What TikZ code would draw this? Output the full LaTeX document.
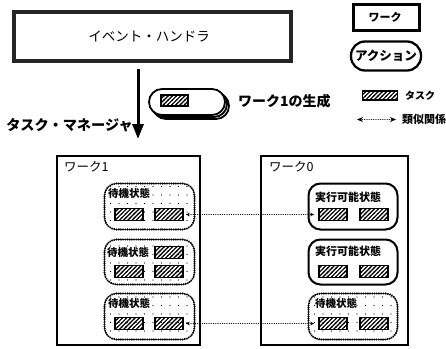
\documentclass[tikz,border=0pt]{standalone}
\usepackage{fontspec}
\setmainfont{Noto Sans CJK JP}
\usetikzlibrary{patterns,arrows.meta}

\pgfdeclarepatternformonly{sparsedots}{\pgfqpoint{-1pt}{-1pt}}{\pgfqpoint{1pt}{1pt}}{\pgfqpoint{8.5pt}{8.5pt}}{\pgfpathcircle{\pgfpointorigin}{0.7pt}\pgfusepath{fill}}
\pgfdeclarepatternformonly{hatchne}{\pgfqpoint{-1pt}{-1pt}}{\pgfqpoint{5.5pt}{5.5pt}}{\pgfqpoint{4.2pt}{4.2pt}}{\pgfsetlinewidth{1.15pt}\pgfpathmoveto{\pgfqpoint{-0.5pt}{-0.5pt}}\pgfpathlineto{\pgfqpoint{4.7pt}{4.7pt}}\pgfusepath{stroke}}

\tikzset{
  fs/.style={font=\fontsize{#1}{#1}\selectfont},
  workbox/.style={draw, line width=2pt, inner sep=0pt},
  statedot/.style={draw, line width=2.2pt, rounded corners=12pt, inner sep=0pt,
     dash pattern=on 0.1pt off 2.1pt, line cap=round, pattern=sparsedots},
  staterun/.style={draw, line width=2pt, rounded corners=12pt, inner sep=0pt, fill=white},
  taskbox/.style={draw, line width=1.6pt, pattern=hatchne, minimum width=28pt, minimum height=12pt, inner sep=0pt},
  pill/.style={draw, line width=1.8pt, fill=white, rounded corners=13pt, minimum width=76pt, minimum height=26pt, inner sep=0pt},
  simrel/.style={line width=0.9pt, dash pattern=on 0.1pt off 1.7pt, line cap=round,
     {Stealth[length=4pt,width=3.5pt]}-{Stealth[length=4pt,width=3.5pt]}},
  lbl/.style={inner sep=0pt, anchor=west},
}

\begin{document}
\begin{tikzpicture}[x=1pt,y=-1pt]
\useasboundingbox (0,0) rectangle (446,348);

% event handler
\node[draw=black!85, line width=3.5pt, minimum width=277pt, minimum height=49pt, inner sep=0pt] (eh) at (152.5,36.5) {};
\node[fs=13.5, inner sep=0pt] (ehl) at (149,37) {イベント・ハンドラ};

% legend
\node[draw, line width=2.5pt, minimum width=66pt, minimum height=26pt, inner sep=0pt] (lw) at (386.5,17.5) {};
\node[font=\bfseries\fontsize{11}{11}\selectfont, inner sep=0pt] (lwl) at (385,17.5) {ワーク};
\node[draw, line width=2.3pt, rounded corners=14pt, minimum width=70pt, minimum height=29pt, inner sep=0pt] (la) at (386,56) {};
\node[font=\bfseries\fontsize{12.5}{12.5}\selectfont, inner sep=0pt] (lal) at (386,56) {アクション};
\node[taskbox, minimum width=35pt, minimum height=9pt] (lt) at (380,95.5) {};
\node[lbl, font=\bfseries\fontsize{10}{10}\selectfont] (ltl) at (405,95.5) {タスク};
\coordinate (ls1) at (357,119.5);
\coordinate (ls2) at (396,119.5);
\draw[simrel, {Stealth[length=6pt,width=5pt]}-{Stealth[length=6pt,width=5pt]}] (ls1) -- (ls2);
\node[lbl, font=\bfseries\fontsize{11}{11}\selectfont] (lsl) at (402,119.5) {類似関係};

% main arrow
\coordinate (tm) at (138,139);
\draw[line width=3pt, -{Triangle[length=15pt,width=11pt]}, shorten <=6pt] (eh.south -| tm) -- (tm);
\node[anchor=east, inner sep=0pt, font=\bfseries\fontsize{14.2}{14.2}\selectfont] (tml) at (133,125) {タスク・マネージャ};

% action: create work1
\node[pill] (gen2) at (191,106) {};
\node[pill] (gen1) at (189,104) {};
\node[pill] (gen) at (187,102) {};
\node[taskbox, minimum width=27pt, minimum height=11pt] (gent) at (174.5,100.5) {};
\node[lbl, font=\bfseries\fontsize{14}{14}\selectfont] (genl) at (238,101) {ワーク1の生成};

% works
\node[workbox, minimum width=143pt, minimum height=189pt] (w1) at (128,250) {};
\node[lbl, fs=12.5] (w1l) at (64,167) {ワーク1};
\node[workbox, minimum width=147pt, minimum height=189pt] (w0) at (334,250) {};
\node[lbl, fs=12.5] (w0l) at (269,167) {ワーク0};

% states in work1
\node[statedot, minimum width=90pt, minimum height=46pt] (s11) at (149.5,206.5) {};
\node[statedot, minimum width=90pt, minimum height=45pt] (s12) at (149.5,262) {};
\node[statedot, minimum width=90pt, minimum height=46pt] (s13) at (149.5,316.5) {};
\node[lbl, font=\bfseries\fontsize{10.5}{10.5}\selectfont] (s11l) at (108,193) {待機状態};
\node[lbl, font=\bfseries\fontsize{10.5}{10.5}\selectfont] (s12l) at (107,252) {待機状態};
\node[lbl, font=\bfseries\fontsize{10.5}{10.5}\selectfont] (s13l) at (108,303) {待機状態};

% states in work0
\node[staterun, minimum width=89pt, minimum height=46pt] (s01) at (353,206.5) {};
\node[staterun, minimum width=89pt, minimum height=45pt] (s02) at (353,262) {};
\node[statedot, minimum width=89pt, minimum height=46pt] (s03) at (353,316.5) {};
\node[lbl, font=\bfseries\fontsize{11}{11}\selectfont] (s01l) at (315,197) {実行可能状態};
\node[lbl, font=\bfseries\fontsize{11}{11}\selectfont] (s02l) at (315,251) {実行可能状態};
\node[lbl, font=\bfseries\fontsize{10.5}{10.5}\selectfont] (s03l) at (315,303) {待機状態};

% tasks
\node[taskbox] (t11a) at (129,214.5) {};
\node[taskbox] (t11b) at (169,214.5) {};
\node[taskbox] (t12c) at (169,252.5) {};
\node[taskbox] (t12a) at (129,271.5) {};
\node[taskbox] (t12b) at (169,271.5) {};
\node[taskbox] (t13a) at (129,323.5) {};
\node[taskbox] (t13b) at (169,323.5) {};
\node[taskbox] (t01a) at (333,214.5) {};
\node[taskbox] (t01b) at (374,214.5) {};
\node[taskbox] (t02a) at (333,271.5) {};
\node[taskbox] (t02b) at (374,271.5) {};
\node[taskbox] (t03a) at (333,323.5) {};
\node[taskbox] (t03b) at (374,323.5) {};

% similarity relations
\draw[simrel, shorten <=2pt, shorten >=4pt] (t11b.east) -- (t01a.west);
\draw[simrel, shorten <=2pt, shorten >=4pt] (t13b.east) -- (t03a.west);
\end{tikzpicture}
\end{document}
